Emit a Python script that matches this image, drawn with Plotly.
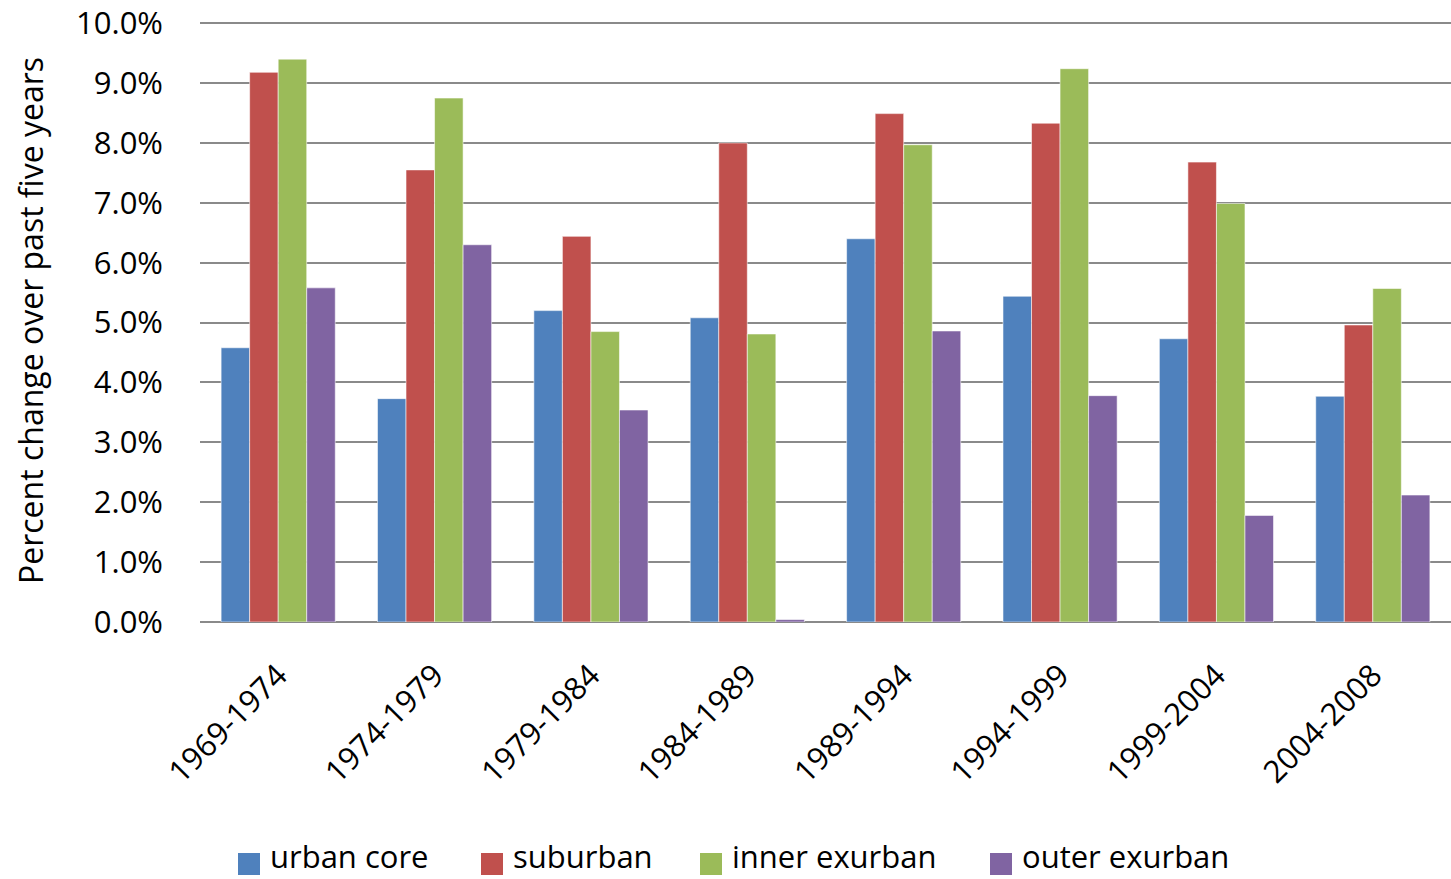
import plotly.graph_objects as go

# Five-year periods and growth rates (percent) by ring of the metro area
periods = ["1969-1974", "1974-1979", "1979-1984", "1984-1989",
           "1989-1994", "1994-1999", "1999-2004", "2004-2008"]
urban_core = [4.58, 3.73, 5.20, 5.08, 6.40, 5.44, 4.73, 3.77]
suburban = [9.18, 7.55, 6.44, 8.00, 8.49, 8.33, 7.68, 4.96]
inner_exurban = [9.40, 8.75, 4.85, 4.81, 7.97, 9.24, 6.99, 5.57]
outer_exurban = [5.58, 6.30, 3.54, 0.04, 4.86, 3.78, 1.78, 2.12]

series_names = ["urban core", "suburban", "inner exurban", "outer exurban"]
series_values = [urban_core, suburban, inner_exurban, outer_exurban]
colors = ["#4F81BD", "#C0504D", "#9BBB59", "#8064A2"]

y_ticks = [0, 1, 2, 3, 4, 5, 6, 7, 8, 9, 10]

FONT = "Open Sans, DejaVu Sans, sans-serif"
W, H = 1451, 879
M_L, M_R, M_T, M_B = 200, 0, 22, 257
PW, PH = W - M_L - M_R, H - M_T - M_B
# small headroom above 10% so the top gridline is drawn inside the plot area
Y_MAX = 10.02


def px_x(x):
    return (x - M_L) / PW


def px_y(y):
    return (H - M_B - y) / PH


fig = go.Figure()
for name, vals, col in zip(series_names, series_values, colors):
    fig.add_trace(go.Bar(
        x=periods, y=vals, name=name,
        marker=dict(color=col, line=dict(color="rgba(255,255,255,0.55)", width=1)),
        showlegend=False,
    ))

# Legend row along the bottom: colour swatch + label
legend_marker_x = [238, 481, 700, 990]
legend_y = 864
for name, col, mx in zip(series_names, colors, legend_marker_x):
    fig.add_shape(
        type="rect", xref="paper", yref="paper",
        xsizemode="pixel", ysizemode="pixel",
        xanchor=px_x(mx), yanchor=px_y(legend_y),
        x0=0, x1=22, y0=-11, y1=11,
        fillcolor=col, line=dict(width=0),
    )
    fig.add_annotation(
        x=px_x(mx + 31), y=px_y(878), xref="paper", yref="paper",
        text=name, showarrow=False, xanchor="left", yanchor="bottom",
        borderpad=0,
        font=dict(family=FONT, size=31, color="#000000"),
    )

# Vertical axis title
fig.add_annotation(
    x=px_x(30), y=px_y(321), xref="paper", yref="paper",
    text="Percent change over past five years", textangle=-90,
    showarrow=False, xanchor="center", yanchor="middle",
    font=dict(family=FONT, size=32, color="#000000"),
)

fig.update_layout(
    width=W, height=H,
    margin=dict(l=M_L, r=M_R, t=M_T, b=M_B, autoexpand=False),
    paper_bgcolor="white", plot_bgcolor="white",
    barmode="group", bargap=0.27, bargroupgap=0,
    font=dict(family=FONT, color="#000000"),
)
fig.update_yaxes(
    range=[0, Y_MAX], tickvals=y_ticks,
    ticktext=[f"{v:.1f}%" for v in y_ticks],
    showgrid=True, gridcolor="#8a8a8a", gridwidth=2,
    zeroline=True, zerolinecolor="#8a8a8a", zerolinewidth=2,
    showline=False, ticks="", ticklabelstandoff=36,
    ticklabeloverflow="allow",
    tickfont=dict(family=FONT, size=31, color="#000000"),
)
fig.update_xaxes(
    tickangle=-45, showgrid=False, showline=False, ticks="",
    ticklabelstandoff=28,
    tickfont=dict(family=FONT, size=31, color="#000000"),
)

fig.write_html("out.html")
